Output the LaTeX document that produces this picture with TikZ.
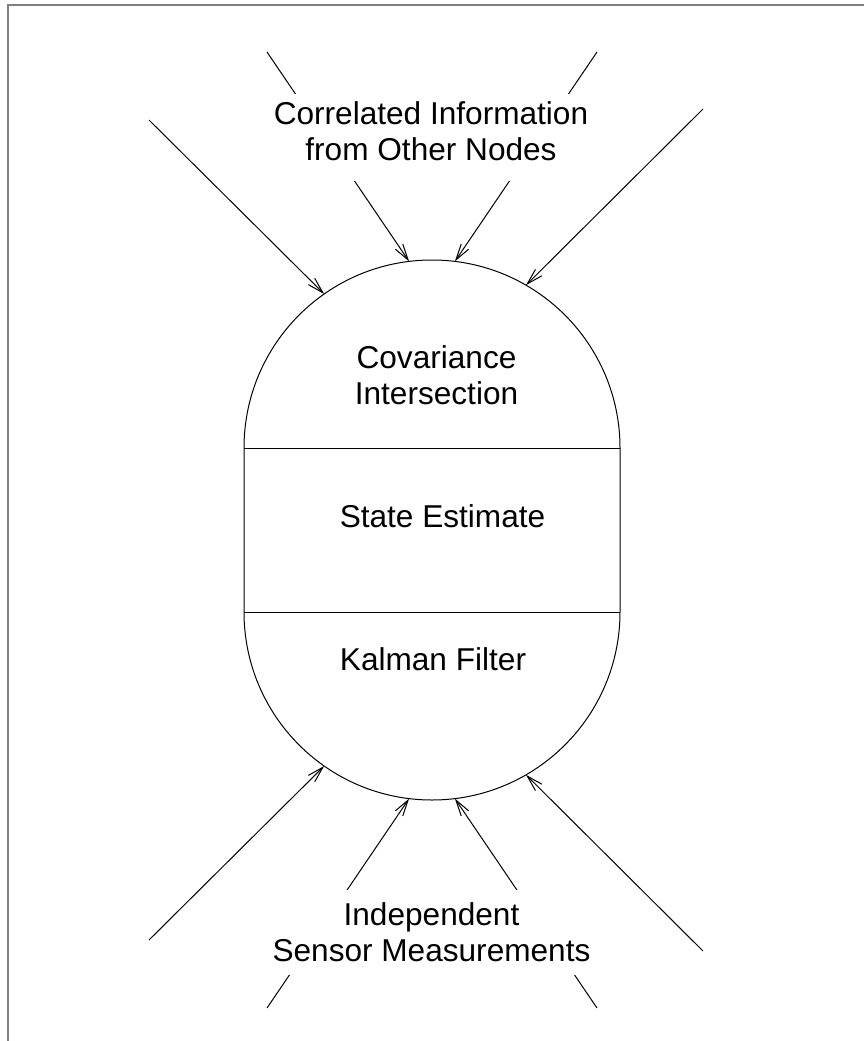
\documentclass[tikz,border=0pt]{standalone}
\usepackage{fontspec}
\setmainfont{Liberation Sans}
\usetikzlibrary{arrows.meta}

\tikzset{
  capsule/.style={draw=none, circle, minimum size=376pt, inner sep=0pt, outer sep=0pt},
  infotext/.style={fill=white, align=center, inner xsep=4pt, inner ysep=8pt},
  flowline/.style={line width=1pt, -{Straight Barb[length=16pt,width=9pt]}},
}

\begin{document}
\begin{tikzpicture}[x=1pt, y=-1pt, font=\fontsize{31.6pt}{36pt}\selectfont, line width=1pt]
  \useasboundingbox (0,0) rectangle (864,1041);
  % frame
  \draw[gray, line width=2pt] (8,1041) -- (8,5.3) -- (864,5.3);

  % the two caps and the box between them
  \node[capsule] (topcap) at (432,448) {};
  \node[capsule] (botcap) at (432,612) {};
  \draw (topcap.west) arc[start angle=180, end angle=360, radius=188]
        -- (botcap.east) arc[start angle=0, end angle=180, radius=188] -- cycle;
  \draw (topcap.west) -- (topcap.east);
  \draw (botcap.west) -- (botcap.east);

  % incoming information
  \foreach \nm/\sx/\sy/\tgt in {inA/149/120/topcap.125, inB/267/52/topcap.97,
                               inC/597/52/topcap.83, inD/703/109/topcap.60,
                               msA/149/940/botcap.235, msB/267/1008/botcap.263,
                               msC/597/1008/botcap.277, msD/703/951/botcap.300} {
    \draw[flowline] (\sx,\sy) coordinate (\nm) -- (\tgt);
  }

  \node[infotext, anchor=base] (othernodes) at (431,160.7)
    {Correlated Information\\from Other Nodes\rule[-12pt]{0pt}{12pt}};
  \node[infotext, inner ysep=13pt, anchor=base] (sensors) at (431.5,961.7)
    {Independent\\Sensor Measurements};

  \node[align=center, anchor=base] (covint) at (436.5,404.3) {Covariance\\Intersection};
  \node[anchor=base] (state) at (442.5,527) {State Estimate};
  \node[anchor=base] (kalman) at (433,670) {Kalman Filter};
\end{tikzpicture}
\end{document}
